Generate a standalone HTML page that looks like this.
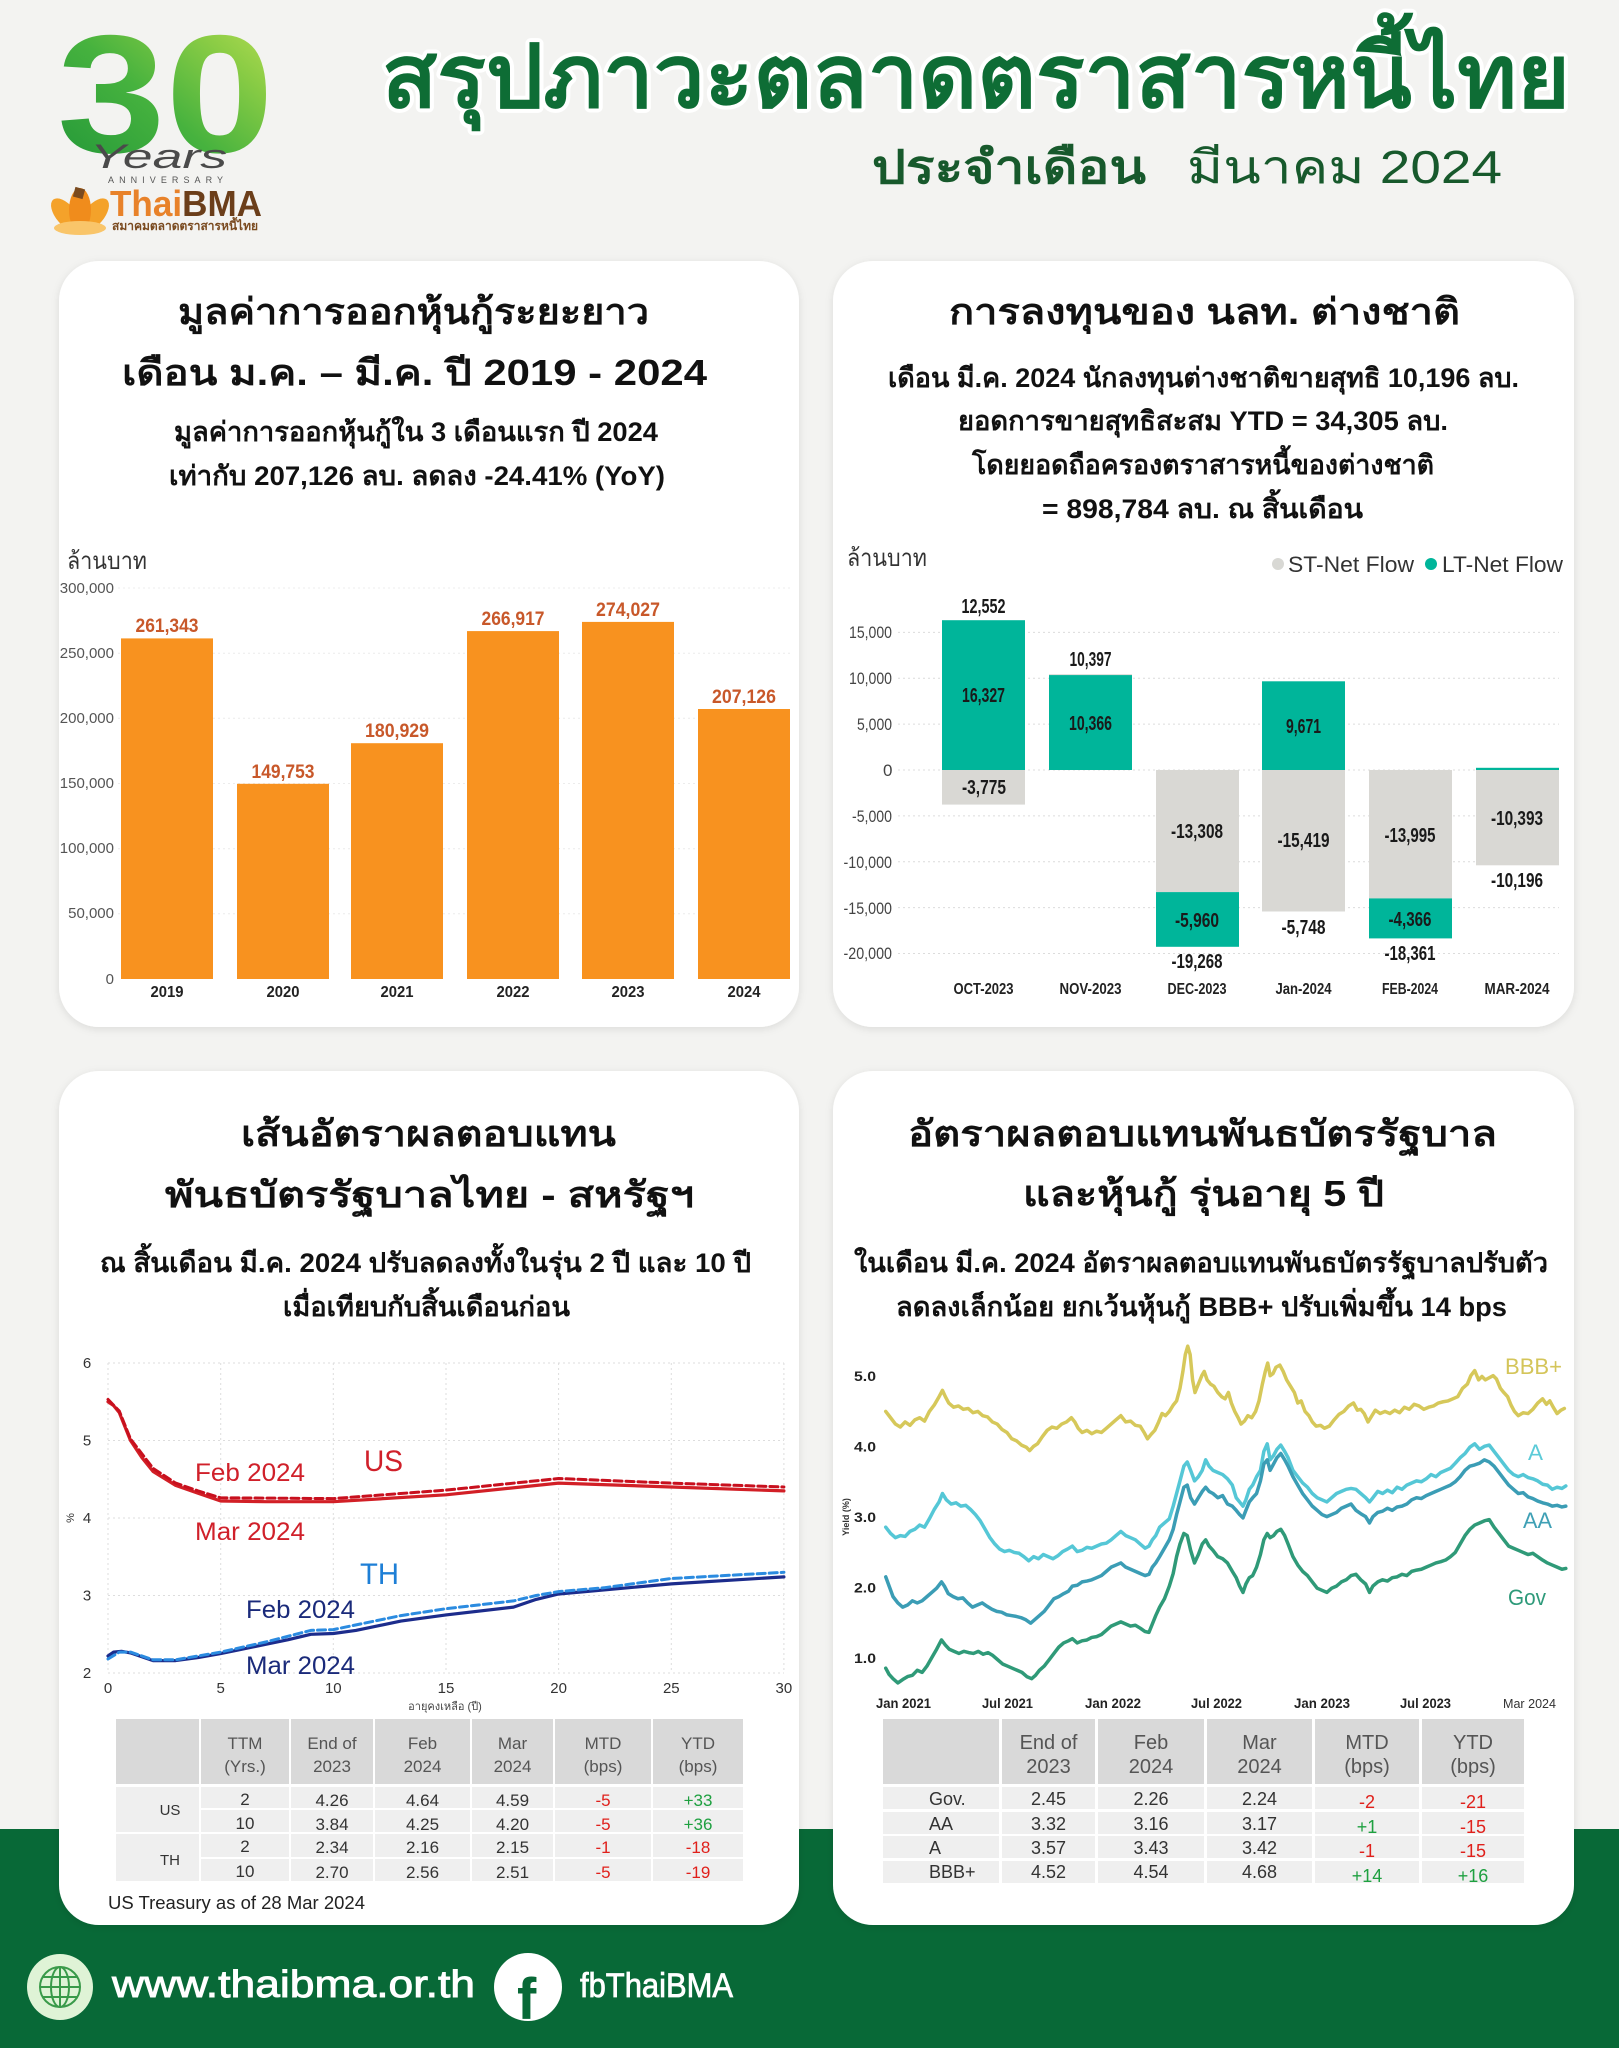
<!DOCTYPE html>
<html lang="th">
<head>
<meta charset="utf-8">
<title>สรุปภาวะตลาดตราสารหนี้ไทย มีนาคม 2024</title>
<style>
  html,body{margin:0;padding:0;background:#f3f3f1;}
  svg{display:block;}
  text{font-family:"Liberation Sans", sans-serif;}
</style>
</head>
<body>
<svg xmlns="http://www.w3.org/2000/svg" width="1619" height="2048" viewBox="0 0 1619 2048">
  <defs>
    <linearGradient id="g30" x1="0" y1="1" x2="1" y2="0">
      <stop offset="0" stop-color="#1e9438"/>
      <stop offset="0.45" stop-color="#46b23e"/>
      <stop offset="0.75" stop-color="#8ccd45"/>
      <stop offset="1" stop-color="#c4e25a"/>
    </linearGradient>
    <filter id="sh" x="-5%" y="-5%" width="110%" height="110%">
      <feDropShadow dx="0" dy="2" stdDeviation="4" flood-color="#000" flood-opacity="0.10"/>
    </filter>
  </defs>

  <!-- background -->
  <rect x="0" y="0" width="1619" height="2048" fill="#f3f3f1"/>
  <rect x="0" y="1829" width="1619" height="219" fill="#086937"/>

  <!-- ===== HEADER ===== -->
  <text x="57" y="152" font-size="168" font-weight="bold" fill="url(#g30)" textLength="217" lengthAdjust="spacingAndGlyphs">30</text>
  <text x="90" y="168" font-family="Liberation Serif, serif" font-style="italic" font-size="34" fill="#4a4a4a" textLength="137" lengthAdjust="spacingAndGlyphs">Years</text>
  <text x="108" y="183" font-size="9" fill="#555" textLength="115" lengthAdjust="spacing">ANNIVERSARY</text>
  <!-- lotus -->
  <g>
    <ellipse cx="66" cy="215" rx="10" ry="20" fill="#f4a22a" transform="rotate(-40 66 215)"/>
    <ellipse cx="94" cy="215" rx="10" ry="20" fill="#f4a22a" transform="rotate(40 94 215)"/>
    <ellipse cx="80" cy="210" rx="11" ry="22" fill="#f08c1c"/>
    <ellipse cx="80" cy="228" rx="26" ry="7" fill="#f9c56a"/>
    <rect x="74" y="188" width="10" height="10" fill="#7a4a1f" transform="rotate(15 79 193)"/>
  </g>
  <text x="110" y="216" font-size="36" font-weight="bold" textLength="152" lengthAdjust="spacingAndGlyphs"><tspan fill="#e8822a">Thai</tspan><tspan fill="#6b3e1a">BMA</tspan></text>
  <text x="112" y="230" font-size="12" font-weight="bold" fill="#7a4a1f" textLength="146" lengthAdjust="spacingAndGlyphs">สมาคมตลาดตราสารหนี้ไทย</text>

  <text x="382" y="107" font-size="88" font-weight="bold" fill="#0e6d35" stroke="#ffffff" stroke-width="8" stroke-linejoin="round" paint-order="stroke" textLength="1188" lengthAdjust="spacingAndGlyphs">สรุปภาวะตลาดตราสารหนี้ไทย</text>
  <text x="872" y="183" font-size="46" font-weight="bold" fill="#17592c" textLength="274" lengthAdjust="spacingAndGlyphs">ประจำเดือน</text>
  <text x="1187" y="183" font-size="46" fill="#17592c" textLength="315" lengthAdjust="spacingAndGlyphs">มีนาคม 2024</text>

  <!-- ===== CARDS ===== -->
  <rect x="59" y="261" width="740" height="766" rx="40" fill="#fff" filter="url(#sh)"/>
  <rect x="833" y="261" width="741" height="766" rx="40" fill="#fff" filter="url(#sh)"/>
  <rect x="59" y="1071" width="740" height="854" rx="40" fill="#fff" filter="url(#sh)"/>
  <rect x="833" y="1071" width="741" height="854" rx="40" fill="#fff" filter="url(#sh)"/>

  <!-- ===== CARD 1 ===== -->
  <g fill="#111" font-weight="bold">
    <text x="178" y="324" font-size="36" textLength="471" lengthAdjust="spacingAndGlyphs">มูลค่าการออกหุ้นกู้ระยะยาว</text>
    <text x="122" y="385" font-size="36" textLength="585" lengthAdjust="spacingAndGlyphs">เดือน ม.ค. – มี.ค. ปี 2019 - 2024</text>
    <text x="174" y="441" font-size="27" textLength="484" lengthAdjust="spacingAndGlyphs">มูลค่าการออกหุ้นกู้ใน 3 เดือนแรก ปี 2024</text>
    <text x="169" y="485" font-size="27" textLength="496" lengthAdjust="spacingAndGlyphs">เท่ากับ 207,126 ลบ. ลดลง -24.41% (YoY)</text>
  </g>
  <text x="67" y="569" font-size="24" fill="#333" textLength="80" lengthAdjust="spacingAndGlyphs">ล้านบาท</text>
  <g stroke="#ececec" stroke-width="1" stroke-dasharray="2 3">
    <line x1="118" y1="588" x2="792" y2="588"/>
    <line x1="118" y1="653.2" x2="792" y2="653.2"/>
    <line x1="118" y1="718.3" x2="792" y2="718.3"/>
    <line x1="118" y1="783.5" x2="792" y2="783.5"/>
    <line x1="118" y1="848.7" x2="792" y2="848.7"/>
    <line x1="118" y1="913.8" x2="792" y2="913.8"/>
  </g>
  <g font-size="15" fill="#555" text-anchor="end">
    <text x="114" y="593">300,000</text>
    <text x="114" y="658">250,000</text>
    <text x="114" y="723">200,000</text>
    <text x="114" y="788">150,000</text>
    <text x="114" y="853">100,000</text>
    <text x="114" y="918">50,000</text>
    <text x="114" y="984">0</text>
  </g>
  <g fill="#f8921f">
    <rect x="121" y="638.4" width="92" height="340.6"/>
    <rect x="237" y="783.8" width="92" height="195.2"/>
    <rect x="351" y="743.2" width="92" height="235.8"/>
    <rect x="467" y="631.1" width="92" height="347.9"/>
    <rect x="582" y="621.9" width="92" height="357.1"/>
    <rect x="698" y="709.0" width="92" height="270.0"/>
  </g>
  <g font-size="19" font-weight="bold" fill="#c8582a">
    <text x="135.5" y="632" textLength="63" lengthAdjust="spacingAndGlyphs">261,343</text>
    <text x="251.5" y="778" textLength="63" lengthAdjust="spacingAndGlyphs">149,753</text>
    <text x="365" y="737" textLength="64" lengthAdjust="spacingAndGlyphs">180,929</text>
    <text x="481.5" y="625" textLength="63" lengthAdjust="spacingAndGlyphs">266,917</text>
    <text x="596" y="616" textLength="64" lengthAdjust="spacingAndGlyphs">274,027</text>
    <text x="712" y="703" textLength="64" lengthAdjust="spacingAndGlyphs">207,126</text>
  </g>
  <g font-size="16" font-weight="bold" fill="#222">
    <text x="150.5" y="997" textLength="33" lengthAdjust="spacingAndGlyphs">2019</text>
    <text x="266.5" y="997" textLength="33" lengthAdjust="spacingAndGlyphs">2020</text>
    <text x="380.5" y="997" textLength="33" lengthAdjust="spacingAndGlyphs">2021</text>
    <text x="496.5" y="997" textLength="33" lengthAdjust="spacingAndGlyphs">2022</text>
    <text x="611.5" y="997" textLength="33" lengthAdjust="spacingAndGlyphs">2023</text>
    <text x="727.5" y="997" textLength="33" lengthAdjust="spacingAndGlyphs">2024</text>
  </g>

  <!-- ===== CARD 2 ===== -->
  <g fill="#111" font-weight="bold">
    <text x="949" y="324" font-size="36" textLength="511" lengthAdjust="spacingAndGlyphs">การลงทุนของ นลท. ต่างชาติ</text>
    <text x="888" y="387" font-size="27" textLength="631" lengthAdjust="spacingAndGlyphs">เดือน มี.ค. 2024 นักลงทุนต่างชาติขายสุทธิ 10,196 ลบ.</text>
    <text x="958" y="430" font-size="27" textLength="490" lengthAdjust="spacingAndGlyphs">ยอดการขายสุทธิสะสม YTD = 34,305 ลบ.</text>
    <text x="972" y="474" font-size="27" textLength="462" lengthAdjust="spacingAndGlyphs">โดยยอดถือครองตราสารหนี้ของต่างชาติ</text>
    <text x="1042" y="518" font-size="27" textLength="321" lengthAdjust="spacingAndGlyphs">= 898,784 ลบ. ณ สิ้นเดือน</text>
  </g>
  <text x="847" y="566" font-size="24" fill="#333" textLength="80" lengthAdjust="spacingAndGlyphs">ล้านบาท</text>
  <circle cx="1278" cy="564" r="6" fill="#d8d8d4"/>
  <text x="1288" y="572" font-size="22" fill="#333" textLength="126" lengthAdjust="spacingAndGlyphs">ST-Net Flow</text>
  <circle cx="1431" cy="564" r="6" fill="#00b59a"/>
  <text x="1442" y="572" font-size="22" fill="#333" textLength="121" lengthAdjust="spacingAndGlyphs">LT-Net Flow</text>
  <g stroke="#dcdcdc" stroke-width="1" stroke-dasharray="2 3">
    <line x1="898" y1="632.4" x2="1559" y2="632.4"/>
    <line x1="898" y1="678.3" x2="1559" y2="678.3"/>
    <line x1="898" y1="724.1" x2="1559" y2="724.1"/>
    <line x1="898" y1="770" x2="1559" y2="770"/>
    <line x1="898" y1="815.9" x2="1559" y2="815.9"/>
    <line x1="898" y1="861.7" x2="1559" y2="861.7"/>
    <line x1="898" y1="907.6" x2="1559" y2="907.6"/>
    <line x1="898" y1="953.5" x2="1559" y2="953.5"/>
  </g>
  <g font-size="17" fill="#444">
    <text x="849" y="638" textLength="43" lengthAdjust="spacingAndGlyphs">15,000</text>
    <text x="849" y="684" textLength="43" lengthAdjust="spacingAndGlyphs">10,000</text>
    <text x="857" y="730" textLength="35" lengthAdjust="spacingAndGlyphs">5,000</text>
    <text x="883" y="776">0</text>
    <text x="852" y="822" textLength="40" lengthAdjust="spacingAndGlyphs">-5,000</text>
    <text x="843.5" y="868" textLength="48.5" lengthAdjust="spacingAndGlyphs">-10,000</text>
    <text x="843.5" y="914" textLength="48.5" lengthAdjust="spacingAndGlyphs">-15,000</text>
    <text x="843.5" y="959" textLength="48.5" lengthAdjust="spacingAndGlyphs">-20,000</text>
  </g>
  <!-- bars -->
  <g>
    <rect x="942" y="620.2" width="83" height="149.8" fill="#00b59a"/>
    <rect x="942" y="770" width="83" height="34.6" fill="#d9d8d4"/>
    <rect x="1049" y="674.9" width="83" height="95.1" fill="#00b59a"/>
    <rect x="1049" y="674.2" width="83" height="0.9" fill="#d9d8d4"/>
    <rect x="1156" y="770" width="83" height="122.1" fill="#d9d8d4"/>
    <rect x="1156" y="892.1" width="83" height="54.7" fill="#00b59a"/>
    <rect x="1262" y="681.3" width="83" height="88.7" fill="#00b59a"/>
    <rect x="1262" y="770" width="83" height="141.5" fill="#d9d8d4"/>
    <rect x="1369" y="770" width="83" height="128.4" fill="#d9d8d4"/>
    <rect x="1369" y="898.4" width="83" height="40.0" fill="#00b59a"/>
    <rect x="1476" y="770" width="83" height="95.3" fill="#d9d8d4"/>
    <rect x="1476" y="767.8" width="83" height="2.2" fill="#00b59a"/>
  </g>
  <g font-size="20" font-weight="bold" fill="#1a1a1a">
    <text x="961.5" y="613" textLength="44" lengthAdjust="spacingAndGlyphs">12,552</text>
    <text x="962" y="702" textLength="43" lengthAdjust="spacingAndGlyphs">16,327</text>
    <text x="962" y="794" textLength="44" lengthAdjust="spacingAndGlyphs">-3,775</text>
    <text x="1069.5" y="666" textLength="42" lengthAdjust="spacingAndGlyphs">10,397</text>
    <text x="1069" y="730" textLength="43" lengthAdjust="spacingAndGlyphs">10,366</text>
    <text x="1171" y="838" textLength="52" lengthAdjust="spacingAndGlyphs">-13,308</text>
    <text x="1175" y="927" textLength="44" lengthAdjust="spacingAndGlyphs">-5,960</text>
    <text x="1171.5" y="968" textLength="51" lengthAdjust="spacingAndGlyphs">-19,268</text>
    <text x="1286" y="733" textLength="35" lengthAdjust="spacingAndGlyphs">9,671</text>
    <text x="1277.5" y="847" textLength="52" lengthAdjust="spacingAndGlyphs">-15,419</text>
    <text x="1281.5" y="934" textLength="44" lengthAdjust="spacingAndGlyphs">-5,748</text>
    <text x="1384.5" y="842" textLength="51" lengthAdjust="spacingAndGlyphs">-13,995</text>
    <text x="1388.5" y="926" textLength="43" lengthAdjust="spacingAndGlyphs">-4,366</text>
    <text x="1384.5" y="960" textLength="51" lengthAdjust="spacingAndGlyphs">-18,361</text>
    <text x="1491" y="825" textLength="52" lengthAdjust="spacingAndGlyphs">-10,393</text>
    <text x="1491" y="887" textLength="52" lengthAdjust="spacingAndGlyphs">-10,196</text>
  </g>
  <g font-size="16" font-weight="bold" fill="#222">
    <text x="953.5" y="994" textLength="60" lengthAdjust="spacingAndGlyphs">OCT-2023</text>
    <text x="1059.5" y="994" textLength="62" lengthAdjust="spacingAndGlyphs">NOV-2023</text>
    <text x="1167.5" y="994" textLength="59" lengthAdjust="spacingAndGlyphs">DEC-2023</text>
    <text x="1275.5" y="994" textLength="56" lengthAdjust="spacingAndGlyphs">Jan-2024</text>
    <text x="1382" y="994" textLength="56" lengthAdjust="spacingAndGlyphs">FEB-2024</text>
    <text x="1484.5" y="994" textLength="65" lengthAdjust="spacingAndGlyphs">MAR-2024</text>
  </g>

  <!-- ===== CARD 3 ===== -->
  <g fill="#111" font-weight="bold">
    <text x="241" y="1146" font-size="36" textLength="375" lengthAdjust="spacingAndGlyphs">เส้นอัตราผลตอบแทน</text>
    <text x="165" y="1207" font-size="36" textLength="529" lengthAdjust="spacingAndGlyphs">พันธบัตรรัฐบาลไทย - สหรัฐฯ</text>
    <text x="100" y="1272" font-size="27" textLength="651" lengthAdjust="spacingAndGlyphs">ณ สิ้นเดือน มี.ค. 2024 ปรับลดลงทั้งในรุ่น 2 ปี และ 10 ปี</text>
    <text x="283" y="1316" font-size="27" textLength="287" lengthAdjust="spacingAndGlyphs">เมื่อเทียบกับสิ้นเดือนก่อน</text>
  </g>
  <g stroke="#dddddd" stroke-width="1" stroke-dasharray="2 3">
    <line x1="108" y1="1363" x2="784" y2="1363"/>
    <line x1="108" y1="1440.5" x2="784" y2="1440.5"/>
    <line x1="108" y1="1518" x2="784" y2="1518"/>
    <line x1="108" y1="1595.5" x2="784" y2="1595.5"/>
    <line x1="108" y1="1673" x2="784" y2="1673"/>
    <line x1="108" y1="1363" x2="108" y2="1673"/>
    <line x1="220.7" y1="1363" x2="220.7" y2="1673"/>
    <line x1="333.3" y1="1363" x2="333.3" y2="1673"/>
    <line x1="446" y1="1363" x2="446" y2="1673"/>
    <line x1="558.6" y1="1363" x2="558.6" y2="1673"/>
    <line x1="671.3" y1="1363" x2="671.3" y2="1673"/>
    <line x1="783.9" y1="1363" x2="783.9" y2="1673"/>
  </g>
  <g font-size="15" fill="#333" text-anchor="middle">
    <text x="87" y="1368">6</text>
    <text x="87" y="1445.5">5</text>
    <text x="87" y="1523">4</text>
    <text x="87" y="1600.5">3</text>
    <text x="87" y="1678">2</text>
    <text x="108" y="1693">0</text>
    <text x="220.7" y="1693">5</text>
    <text x="333.3" y="1693">10</text>
    <text x="446" y="1693">15</text>
    <text x="558.6" y="1693">20</text>
    <text x="671.3" y="1693">25</text>
    <text x="783.9" y="1693">30</text>
  </g>
  <text x="0" y="0" font-size="11" fill="#333" text-anchor="middle" transform="translate(74 1518) rotate(-90)">%</text>
  <text x="445" y="1710" font-size="11" fill="#444" text-anchor="middle">อายุคงเหลือ (ปี)</text>
  <!-- curves -->
  <g fill="none" stroke-linejoin="round" stroke-linecap="round">
    <polyline stroke="#d21f26" stroke-width="3.2" points="108,1401.8 113.6,1405.6 119.3,1412.6 130.5,1440.5 141.8,1457.5 153.1,1471.5 175.6,1485.4 198.1,1493.2 220.7,1501 265.7,1501.7 333.3,1501.7 446,1494.8 558.6,1483.1 671.3,1487 783.9,1490.9"/>
    <polyline stroke="#c8101e" stroke-width="3" stroke-dasharray="8 4" points="108,1399.4 119.3,1411.1 130.5,1439 153.1,1468.4 175.6,1483.1 198.1,1490.9 220.7,1497.8 333.3,1498.6 446,1490.1 558.6,1478.5 671.3,1483.1 783.9,1487"/>
    <polyline stroke="#1c2c8c" stroke-width="3.2" points="108,1656 113.6,1652.1 121.5,1651.3 130.5,1652.9 153.1,1660.6 175.6,1660.6 198.1,1657.5 220.7,1653.6 265.7,1644.3 288.2,1639.7 310.8,1634.3 333.3,1633.5 355.8,1630.4 400.9,1621.1 446,1614.9 513.5,1607.1 536.1,1599.4 558.6,1594 671.3,1583.9 783.9,1576.9"/>
    <polyline stroke="#2b8be0" stroke-width="3" stroke-dasharray="8 4" points="108,1659 119.3,1652.1 130.5,1652.1 153.1,1659.8 175.6,1659.8 220.7,1652.1 265.7,1642 310.8,1630.4 333.3,1629.6 400.9,1615.6 446,1608.7 513.5,1600.9 536.1,1595.5 558.6,1591.6 603.7,1587.8 671.3,1578.5 783.9,1572.3"/>
  </g>
  <text x="195" y="1481" font-size="25" fill="#d0202a" textLength="110" lengthAdjust="spacingAndGlyphs">Feb 2024</text>
  <text x="364" y="1471" font-size="30" fill="#d0202a" textLength="39" lengthAdjust="spacingAndGlyphs">US</text>
  <text x="195" y="1540" font-size="25" fill="#d0202a" textLength="110" lengthAdjust="spacingAndGlyphs">Mar 2024</text>
  <text x="360" y="1584" font-size="30" fill="#1e7fd6" textLength="39" lengthAdjust="spacingAndGlyphs">TH</text>
  <text x="246" y="1618" font-size="25" fill="#1a2a7a" textLength="109" lengthAdjust="spacingAndGlyphs">Feb 2024</text>
  <text x="246" y="1674" font-size="25" fill="#1a2a7a" textLength="109" lengthAdjust="spacingAndGlyphs">Mar 2024</text>

  <!-- table left -->
  <g fill="#d9d9d9">
    <rect x="116" y="1719" width="83" height="65"/>
    <rect x="201" y="1719" width="88" height="65"/>
    <rect x="291" y="1719" width="82" height="65"/>
    <rect x="375" y="1719" width="95" height="65"/>
    <rect x="472" y="1719" width="81" height="65"/>
    <rect x="555" y="1719" width="96" height="65"/>
    <rect x="653" y="1719" width="90" height="65"/>
  </g>
  <g fill="#efefef">
    <rect x="116" y="1787" width="83" height="45"/>
    <rect x="116" y="1834" width="83" height="47"/>
    <rect x="201" y="1787" width="542" height="21"/>
    <rect x="201" y="1810" width="542" height="22"/>
    <rect x="201" y="1834" width="542" height="23"/>
    <rect x="201" y="1859" width="542" height="22"/>
  </g>
  <g stroke="#fff" stroke-width="2">
    <line x1="290" y1="1787" x2="290" y2="1881"/>
    <line x1="374" y1="1787" x2="374" y2="1881"/>
    <line x1="471" y1="1787" x2="471" y2="1881"/>
    <line x1="554" y1="1787" x2="554" y2="1881"/>
    <line x1="652" y1="1787" x2="652" y2="1881"/>
  </g>
  <g font-size="17" fill="#555" text-anchor="middle">
    <text x="245" y="1749">TTM</text><text x="245" y="1772">(Yrs.)</text>
    <text x="332" y="1749">End of</text><text x="332" y="1772">2023</text>
    <text x="422.5" y="1749">Feb</text><text x="422.5" y="1772">2024</text>
    <text x="512.5" y="1749">Mar</text><text x="512.5" y="1772">2024</text>
    <text x="603" y="1749">MTD</text><text x="603" y="1772">(bps)</text>
    <text x="698" y="1749">YTD</text><text x="698" y="1772">(bps)</text>
  </g>
  <g font-size="17" fill="#333" text-anchor="middle">
    <text x="170" y="1815" font-size="15">US</text>
    <text x="170" y="1865" font-size="15">TH</text>
    <text x="245" y="1805">2</text><text x="332" y="1806">4.26</text><text x="422.5" y="1806">4.64</text><text x="512.5" y="1806">4.59</text>
    <text x="245" y="1829">10</text><text x="332" y="1830">3.84</text><text x="422.5" y="1830">4.25</text><text x="512.5" y="1830">4.20</text>
    <text x="245" y="1852">2</text><text x="332" y="1853">2.34</text><text x="422.5" y="1853">2.16</text><text x="512.5" y="1853">2.15</text>
    <text x="245" y="1877">10</text><text x="332" y="1878">2.70</text><text x="422.5" y="1878">2.56</text><text x="512.5" y="1878">2.51</text>
  </g>
  <g font-size="17" text-anchor="middle">
    <text x="603" y="1806" fill="#e0201b">-5</text><text x="698" y="1806" fill="#1ea040">+33</text>
    <text x="603" y="1830" fill="#e0201b">-5</text><text x="698" y="1830" fill="#1ea040">+36</text>
    <text x="603" y="1853" fill="#e0201b">-1</text><text x="698" y="1853" fill="#e0201b">-18</text>
    <text x="603" y="1878" fill="#e0201b">-5</text><text x="698" y="1878" fill="#e0201b">-19</text>
  </g>
  <text x="108" y="1909" font-size="18" fill="#222" textLength="257" lengthAdjust="spacingAndGlyphs">US Treasury as of 28 Mar 2024</text>

  <!-- ===== CARD 4 ===== -->
  <g fill="#111" font-weight="bold">
    <text x="908" y="1146" font-size="36" textLength="589" lengthAdjust="spacingAndGlyphs">อัตราผลตอบแทนพันธบัตรรัฐบาล</text>
    <text x="1023" y="1206" font-size="36" textLength="361" lengthAdjust="spacingAndGlyphs">และหุ้นกู้ รุ่นอายุ 5 ปี</text>
    <text x="854" y="1272" font-size="27" textLength="694" lengthAdjust="spacingAndGlyphs">ในเดือน มี.ค. 2024 อัตราผลตอบแทนพันธบัตรรัฐบาลปรับตัว</text>
    <text x="896" y="1316" font-size="27" textLength="611" lengthAdjust="spacingAndGlyphs">ลดลงเล็กน้อย ยกเว้นหุ้นกู้ BBB+ ปรับเพิ่มขึ้น 14 bps</text>
  </g>
  <g font-size="14" font-weight="bold" fill="#222">
    <text x="854" y="1381" textLength="22" lengthAdjust="spacingAndGlyphs">5.0</text>
    <text x="854" y="1451.5" textLength="22" lengthAdjust="spacingAndGlyphs">4.0</text>
    <text x="854" y="1522" textLength="22" lengthAdjust="spacingAndGlyphs">3.0</text>
    <text x="854" y="1592.5" textLength="22" lengthAdjust="spacingAndGlyphs">2.0</text>
    <text x="854" y="1663" textLength="22" lengthAdjust="spacingAndGlyphs">1.0</text>
  </g>
  <text x="0" y="0" font-size="9" font-weight="bold" fill="#333" text-anchor="middle" transform="translate(849 1517) rotate(-90)">Yield (%)</text>
  <g font-size="14" font-weight="bold" fill="#222">
    <text x="876" y="1708" textLength="55" lengthAdjust="spacingAndGlyphs">Jan 2021</text>
    <text x="982" y="1708" textLength="51" lengthAdjust="spacingAndGlyphs">Jul 2021</text>
    <text x="1085" y="1708" textLength="56" lengthAdjust="spacingAndGlyphs">Jan 2022</text>
    <text x="1191" y="1708" textLength="51" lengthAdjust="spacingAndGlyphs">Jul 2022</text>
    <text x="1294" y="1708" textLength="56" lengthAdjust="spacingAndGlyphs">Jan 2023</text>
    <text x="1400" y="1708" textLength="51" lengthAdjust="spacingAndGlyphs">Jul 2023</text>
  </g>
  <text x="1503" y="1708" font-size="13" fill="#333" textLength="53" lengthAdjust="spacingAndGlyphs">Mar 2024</text>

  <g transform="translate(830 1060) scale(0.48473 0.42088)" fill="none" stroke-linejoin="round" stroke-linecap="round">
    <polyline vector-effect="non-scaling-stroke" stroke="#d6c85a" stroke-width="3.5" points="115,835 125,850 135,865 145,872 155,860 165,868 175,855 185,850 195,858 205,835 215,820 225,800 232,785 238,800 245,815 255,825 265,822 275,830 285,828 295,838 305,835 315,845 325,848 335,860 345,865 355,878 365,885 375,900 385,905 395,915 405,920 412,928 420,918 428,912 438,895 448,880 458,872 468,875 478,865 488,860 498,850 505,860 512,875 520,885 530,880 540,888 550,882 560,885 570,875 580,865 590,855 600,845 610,860 620,858 630,868 640,870 648,885 655,900 662,890 670,880 678,860 685,840 692,845 700,835 708,820 715,810 722,780 728,740 733,700 738,680 743,700 748,760 753,790 760,770 767,750 772,740 778,760 785,770 792,775 800,790 808,800 815,805 822,790 828,815 835,835 842,850 848,865 855,858 862,845 870,850 878,835 885,810 892,770 898,740 903,720 908,750 914,745 920,730 928,725 935,740 942,760 950,775 958,790 965,815 972,810 980,835 988,845 995,860 1003,870 1012,868 1020,875 1030,870 1040,855 1050,842 1060,835 1070,822 1080,815 1088,832 1095,830 1102,840 1110,860 1118,845 1125,832 1135,840 1145,835 1155,840 1165,832 1175,838 1185,825 1195,830 1205,818 1215,822 1225,830 1235,825 1245,822 1255,815 1265,812 1275,810 1285,805 1295,800 1305,780 1315,770 1322,750 1330,738 1338,760 1345,752 1352,760 1360,755 1368,750 1375,758 1383,780 1390,790 1398,800 1405,820 1412,835 1420,845 1430,838 1440,840 1450,830 1460,815 1470,805 1478,818 1485,810 1492,825 1500,840 1508,832 1515,828"/>
    <polyline vector-effect="non-scaling-stroke" stroke="#55c7d6" stroke-width="3.5" points="115,1110 125,1125 135,1135 145,1130 155,1132 165,1120 175,1115 185,1105 195,1110 205,1090 215,1068 225,1050 232,1030 240,1045 250,1055 260,1052 270,1060 280,1058 290,1068 300,1080 310,1095 320,1115 330,1135 340,1150 350,1162 360,1168 370,1165 380,1170 390,1172 400,1180 410,1190 420,1180 430,1185 440,1175 450,1180 460,1185 470,1178 480,1168 490,1162 500,1155 510,1168 520,1165 530,1158 540,1160 550,1155 560,1150 570,1148 580,1140 590,1130 600,1120 610,1130 620,1135 630,1140 640,1150 650,1160 658,1155 665,1140 672,1130 680,1110 690,1100 700,1090 708,1060 715,1030 722,1000 730,965 737,955 744,975 752,1000 760,990 768,975 775,950 782,965 790,975 800,980 810,985 820,995 830,1010 838,1040 845,1050 852,1060 858,1045 865,1020 872,1010 880,990 888,975 895,930 902,912 908,950 915,940 922,925 930,915 938,930 945,945 955,975 965,990 975,1005 985,1015 995,1030 1005,1040 1015,1045 1025,1050 1035,1040 1045,1030 1055,1025 1065,1020 1075,1018 1085,1020 1095,1030 1105,1040 1113,1050 1120,1040 1130,1025 1140,1030 1150,1022 1160,1028 1170,1015 1180,1020 1190,1010 1200,1005 1210,1000 1220,1002 1230,995 1240,985 1250,990 1260,980 1270,975 1280,970 1290,958 1300,945 1310,935 1320,920 1330,912 1340,925 1350,918 1360,915 1370,930 1380,945 1390,960 1400,975 1410,985 1420,990 1430,985 1440,992 1450,995 1460,1000 1470,1008 1480,1010 1490,1020 1500,1015 1510,1018 1518,1012"/>
    <polyline vector-effect="non-scaling-stroke" stroke="#3b9db5" stroke-width="3.5" points="115,1228 122,1250 130,1275 140,1290 150,1300 160,1295 170,1285 180,1290 190,1285 200,1275 210,1265 220,1255 230,1240 236,1250 244,1268 254,1275 264,1280 274,1278 284,1290 294,1300 304,1295 314,1290 324,1298 334,1305 344,1310 354,1312 364,1318 374,1320 384,1322 394,1325 404,1330 414,1338 422,1330 432,1320 442,1310 452,1295 462,1280 472,1275 482,1268 492,1262 500,1250 510,1248 520,1240 530,1238 540,1235 550,1230 560,1225 570,1215 580,1205 590,1200 600,1195 610,1205 620,1210 630,1215 640,1220 650,1225 658,1222 665,1205 672,1195 680,1180 690,1160 700,1140 708,1115 715,1080 722,1050 730,1015 737,1010 744,1040 752,1055 760,1040 768,1025 775,1015 782,1025 790,1030 800,1040 810,1035 820,1055 830,1060 838,1070 845,1080 852,1088 858,1070 865,1050 872,1040 880,1030 888,1000 895,960 902,950 908,975 915,960 922,945 930,935 938,950 945,965 955,990 965,1010 975,1030 985,1045 995,1060 1005,1070 1015,1080 1025,1085 1035,1080 1045,1075 1055,1065 1065,1060 1075,1055 1085,1070 1095,1078 1105,1085 1113,1100 1120,1085 1130,1075 1140,1072 1150,1065 1160,1070 1170,1062 1180,1060 1190,1055 1200,1045 1210,1040 1220,1042 1230,1035 1240,1030 1250,1025 1260,1020 1270,1015 1280,1010 1290,1002 1300,990 1310,975 1320,965 1330,962 1340,958 1350,950 1360,955 1370,965 1380,980 1390,995 1400,1010 1410,1020 1420,1030 1430,1028 1440,1038 1450,1042 1460,1048 1470,1052 1480,1055 1490,1060 1500,1058 1510,1062 1518,1060"/>
    <polyline vector-effect="non-scaling-stroke" stroke="#2f9a78" stroke-width="3.5" points="115,1445 122,1460 130,1470 140,1480 150,1472 160,1465 170,1462 180,1450 190,1455 200,1440 210,1420 220,1400 230,1378 238,1390 246,1400 256,1405 266,1410 276,1405 286,1408 296,1410 306,1405 316,1412 326,1408 336,1415 346,1425 356,1435 366,1440 376,1445 386,1450 396,1455 406,1465 416,1470 424,1462 432,1450 442,1440 452,1425 462,1410 472,1395 482,1385 492,1380 500,1375 510,1385 520,1380 530,1378 540,1372 550,1370 560,1365 570,1355 580,1345 590,1340 600,1335 610,1340 620,1345 630,1343 640,1350 650,1358 658,1360 665,1340 672,1320 680,1300 690,1280 700,1250 708,1220 715,1180 722,1150 730,1125 737,1130 744,1165 752,1195 760,1175 768,1150 775,1140 782,1155 790,1165 800,1180 810,1185 820,1195 830,1215 838,1230 845,1250 852,1265 858,1245 865,1230 872,1225 880,1205 888,1175 895,1140 902,1125 908,1135 915,1130 922,1120 930,1115 938,1130 945,1150 955,1180 965,1200 975,1215 985,1225 995,1240 1005,1255 1015,1260 1025,1265 1035,1255 1045,1250 1055,1240 1065,1235 1075,1225 1085,1222 1095,1235 1105,1245 1113,1265 1120,1250 1130,1240 1140,1235 1150,1238 1160,1230 1170,1228 1180,1222 1190,1225 1200,1215 1210,1212 1220,1210 1230,1205 1240,1200 1250,1195 1260,1192 1270,1188 1280,1180 1290,1170 1300,1150 1310,1130 1320,1115 1330,1105 1340,1100 1350,1095 1360,1092 1370,1110 1380,1125 1390,1140 1400,1155 1410,1160 1420,1165 1430,1170 1440,1175 1450,1172 1460,1180 1470,1188 1480,1195 1490,1200 1500,1205 1510,1210 1518,1208"/>
  </g>
  <text x="1505" y="1374" font-size="22" fill="#d4c55a" textLength="57" lengthAdjust="spacingAndGlyphs">BBB+</text>
  <text x="1528" y="1460" font-size="22" fill="#5ccbd8" textLength="15" lengthAdjust="spacingAndGlyphs">A</text>
  <text x="1523" y="1528" font-size="22" fill="#3fa0b5" textLength="29" lengthAdjust="spacingAndGlyphs">AA</text>
  <text x="1508" y="1605" font-size="22" fill="#2e9a7a" textLength="38" lengthAdjust="spacingAndGlyphs">Gov</text>

  <!-- table right -->
  <g fill="#d9d9d9">
    <rect x="883" y="1719" width="116" height="65"/>
    <rect x="1002" y="1719" width="93" height="65"/>
    <rect x="1098" y="1719" width="106" height="65"/>
    <rect x="1207" y="1719" width="105" height="65"/>
    <rect x="1315" y="1719" width="104" height="65"/>
    <rect x="1422" y="1719" width="102" height="65"/>
  </g>
  <g fill="#efefef">
    <rect x="883" y="1787" width="641" height="22"/>
    <rect x="883" y="1812" width="641" height="22"/>
    <rect x="883" y="1836" width="641" height="22"/>
    <rect x="883" y="1861" width="641" height="22"/>
  </g>
  <g stroke="#fff" stroke-width="3">
    <line x1="1000.5" y1="1787" x2="1000.5" y2="1883"/>
    <line x1="1096.5" y1="1787" x2="1096.5" y2="1883"/>
    <line x1="1205.5" y1="1787" x2="1205.5" y2="1883"/>
    <line x1="1313.5" y1="1787" x2="1313.5" y2="1883"/>
    <line x1="1420.5" y1="1787" x2="1420.5" y2="1883"/>
  </g>
  <g font-size="20" fill="#555" text-anchor="middle">
    <text x="1048.5" y="1749">End of</text><text x="1048.5" y="1773">2023</text>
    <text x="1151" y="1749">Feb</text><text x="1151" y="1773">2024</text>
    <text x="1259.5" y="1749">Mar</text><text x="1259.5" y="1773">2024</text>
    <text x="1367" y="1749">MTD</text><text x="1367" y="1773">(bps)</text>
    <text x="1473" y="1749">YTD</text><text x="1473" y="1773">(bps)</text>
  </g>
  <g font-size="18" fill="#333">
    <text x="929" y="1805">Gov.</text>
    <text x="929" y="1830">AA</text>
    <text x="929" y="1854">A</text>
    <text x="929" y="1878">BBB+</text>
  </g>
  <g font-size="18" fill="#333" text-anchor="middle">
    <text x="1048.5" y="1805">2.45</text><text x="1151" y="1805">2.26</text><text x="1259.5" y="1805">2.24</text>
    <text x="1048.5" y="1830">3.32</text><text x="1151" y="1830">3.16</text><text x="1259.5" y="1830">3.17</text>
    <text x="1048.5" y="1854">3.57</text><text x="1151" y="1854">3.43</text><text x="1259.5" y="1854">3.42</text>
    <text x="1048.5" y="1878">4.52</text><text x="1151" y="1878">4.54</text><text x="1259.5" y="1878">4.68</text>
  </g>
  <g font-size="18" text-anchor="middle">
    <text x="1367" y="1808" fill="#e0201b">-2</text><text x="1473" y="1808" fill="#e0201b">-21</text>
    <text x="1367" y="1833" fill="#1ea040">+1</text><text x="1473" y="1833" fill="#e0201b">-15</text>
    <text x="1367" y="1857" fill="#e0201b">-1</text><text x="1473" y="1857" fill="#e0201b">-15</text>
    <text x="1367" y="1882" fill="#1ea040">+14</text><text x="1473" y="1882" fill="#1ea040">+16</text>
  </g>

  <!-- ===== FOOTER ===== -->
  <circle cx="60" cy="1987" r="33" fill="#dff3d6"/>
  <g fill="none" stroke="#3a9a4a" stroke-width="2">
    <circle cx="60" cy="1987" r="20"/>
    <ellipse cx="60" cy="1987" rx="9" ry="20"/>
    <line x1="60" y1="1967" x2="60" y2="2007"/>
    <line x1="40" y1="1987" x2="80" y2="1987"/>
    <line x1="43" y1="1977" x2="77" y2="1977"/>
    <line x1="43" y1="1997" x2="77" y2="1997"/>
  </g>
  <text x="112" y="1997" font-size="38" fill="#ffffff" stroke="#ffffff" stroke-width="0.9" textLength="363" lengthAdjust="spacingAndGlyphs">www.thaibma.or.th</text>
  <circle cx="528" cy="1987" r="34" fill="#ffffff"/>
  <text x="517" y="2019" font-size="58" font-weight="bold" fill="#086937">f</text>
  <text x="580" y="1997" font-size="34" fill="#ffffff" stroke="#ffffff" stroke-width="0.8" textLength="153" lengthAdjust="spacingAndGlyphs">fbThaiBMA</text>
</svg>
</body>
</html>
